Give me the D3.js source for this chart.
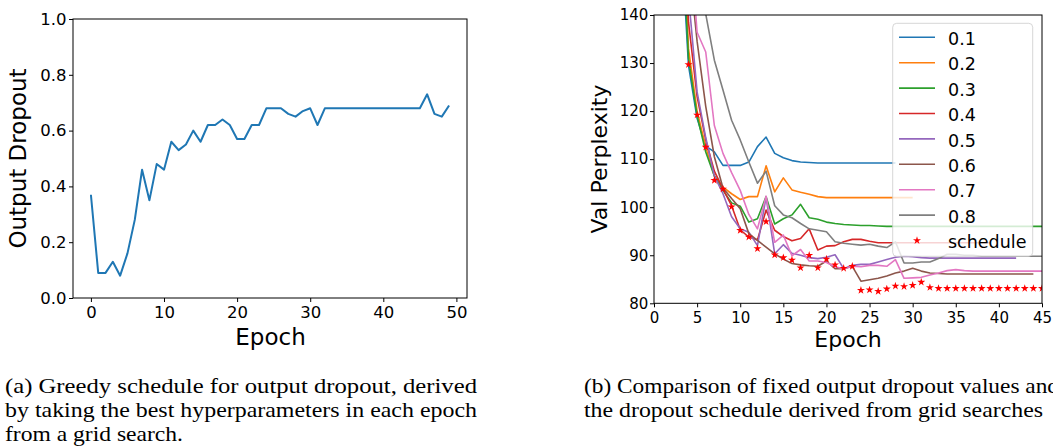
<!DOCTYPE html>
<html>
<head>
<meta charset="utf-8">
<script src="https://cdn.jsdelivr.net/npm/d3@7"></script>
<style>
  html, body { margin: 0; padding: 0; background: #fff; }
  svg { display: block; }
  .tick text { font-family: "DejaVu Sans", sans-serif; fill: #000; }
  .tick line { stroke: #000; }
</style>
</head>
<body>
<svg id="fig" width="1053" height="447"></svg>
<script>
// (a) greedy output dropout per epoch, epochs 0..49
const outputDropout = [0.37, 0.09, 0.09, 0.13, 0.08, 0.16, 0.28, 0.46, 0.35, 0.48,
  0.46, 0.56, 0.53, 0.55, 0.60, 0.56, 0.62, 0.62, 0.64, 0.62,
  0.57, 0.57, 0.62, 0.62, 0.68, 0.68, 0.68, 0.66, 0.65, 0.67,
  0.68, 0.62, 0.68, 0.68, 0.68, 0.68, 0.68, 0.68, 0.68, 0.68,
  0.68, 0.68, 0.68, 0.68, 0.68, 0.68, 0.73, 0.66, 0.65, 0.69];
const dropoutTicks = [0, 0.2, 0.4, 0.6, 0.8, 1.0];
const dropoutEpochTicks = [0, 10, 20, 30, 40, 50];

// (b) val perplexity, every fixed-dropout series starts at epoch 3
const seriesStart = 3;
const ppl01 = [161, 129.5, 118.5, 112.7, 111.5, 108.7, 108.7, 108.7, 109.4, 112.6,
  114.6, 111.2, 110.3, 109.7, 109.4, 109.3, 109.2, 109.2, 109.2, 109.2,
  109.2, 109.2, 109.2, 109.2, 109.2, 109.2];
const ppl02 = [178, 133, 120, 112.5, 106.5, 104.2, 102.8, 101.6, 102.2, 102.2,
  108.6, 103.2, 106.1, 103.6, 103.1, 102.7, 102.2, 102.0, 102.0, 102.0,
  102.0, 102.0, 102.0, 102.0, 102.0, 102.0, 102.0, 102.0];
const ppl03 = [167, 131, 119, 111.5, 106.5, 103.5, 100.9, 100.2, 96.9, 97.6,
  102.2, 96.5, 97.6, 98.4, 100.6, 97.8, 97.5, 96.9, 96.6, 96.4,
  96.3, 96.2, 96.2, 96.1, 96.0, 96.0, 96.0, 96.0, 96.0, 96.0,
  96.0, 96.0, 96.0, 96.0, 96.0, 96.0, 96.0, 96.0, 96.0, 96.0,
  96.0, 96.0, 96.0];
const ppl04 = [176, 138.5, 123, 114, 107.5, 103.8, 100.3, 95.3, 93.8, 93.2,
  99.4, 95.2, 93.9, 93.0, 93.5, 95.5, 91.1, 91.9, 92.0, 92.8,
  93.3, 93.3, 92.9, 92.6, 92.6, 92.6, 92.6, 92.6, 92.6, 92.6,
  92.6, 92.6, 92.6, 92.6, 92.6, 92.6, 92.6];
const ppl05 = [180, 144, 124, 114.5, 106.5, 102.8, 98.0, 95.5, 94.8, 92.0,
  102.1, 90.3, 92.2, 90.4, 90.0, 89.5, 89.3, 89.6, 90.1, 87.2,
  87.9, 88.1, 88.1, 88.6, 89.1, 89.6, 89.8, 89.7, 89.5, 89.4,
  89.4, 89.4, 89.4, 89.4, 89.4, 89.4, 89.4, 89.4, 89.4, 89.4];
const ppl06 = [195, 152, 134.5, 121, 110.5, 104, 101.8, 99.7, 94.5, 93.1,
  91.7, 90.3, 89.2, 88.3, 88.0, 87.8, 87.7, 88.8, 87.2, 87.2,
  87.7, 84.6, 84.9, 85.2, 85.7, 86.3, 86.7, 87.3, 86.7, 86.3,
  86.2, 86.1, 86.1, 86.1, 86.1, 86.1, 86.1, 86.1, 86.1, 86.1,
  86.1, 86.1];
const ppl07 = [205, 160, 136.4, 132.3, 117, 111.2, 107.2, 103.5, 98.5, 95.5,
  102.3, 92.7, 94.2, 89.9, 91.2, 88.8, 88.8, 88.5, 87.6, 87.2,
  87.7, 87.6, 87.9, 87.9, 87.7, 89.1, 85.2, 85.3, 85.4, 85.9,
  86.3, 86.8, 87.0, 86.8, 86.7, 86.7, 86.7, 86.7, 86.7, 86.7,
  86.7, 86.7, 86.7];
const ppl08 = [215, 185, 158, 140.2, 130.6, 124.4, 118.1, 114, 109.4, 105,
  107.5, 100.3, 98.4, 97.8, 96.6, 95.5, 95.2, 94.9, 92.8, 92.5,
  92.3, 92.1, 92.3, 91.9, 91.6, 92.8, 88.4, 88.4, 88.6, 88.6,
  89.3, 90.2, 90.2, 90.0, 90.0, 89.8, 89.8, 89.8, 89.8, 89.8,
  89.8, 89.8, 89.8];
// schedule starts at epoch 4
const scheduleStart = 4;
const schedulePpl = [129.7, 119.2, 112.5, 105.6, 103.8, 100.1, 95.2, 93.8, 91.4, 97.0,
  90.1, 89.5, 89.0, 87.4, 90.0, 87.4, 89.2, 88.0, 87.3, 87.7,
  82.7, 82.8, 82.5, 83.0, 83.6, 83.5, 83.75, 84.4, 83.3, 83.1,
  83.1, 83.1, 83.1, 83.1, 83.1, 83.1, 83.1, 83.1, 83.1, 83.1,
  83.1, 83.1];
const dropoutLabels = ['0.1', '0.2', '0.3', '0.4', '0.5', '0.6', '0.7', '0.8'];
const pplSeries = [ppl01, ppl02, ppl03, ppl04, ppl05, ppl06, ppl07, ppl08];
const pplTicks = [80, 90, 100, 110, 120, 130, 140];
const pplEpochTicks = [0, 5, 10, 15, 20, 25, 30, 35, 40, 45];

const captionA = ['(a) Greedy schedule for output dropout, derived',
  'by taking the best hyperparameters in each epoch',
  'from a grid search.'];
const captionB = ['(b) Comparison of fixed output dropout values and',
  'the dropout schedule derived from grid searches'];

const colors = ['#1f77b4', '#ff7f0e', '#2ca02c', '#d62728', '#9467bd', '#8c564b', '#e377c2', '#7f7f7f'];
const font = '"DejaVu Sans", sans-serif';

const svg = d3.select('#fig');
svg.append('rect').attr('width', 1053).attr('height', 447).attr('fill', '#fff');

const styleAxis = (g, size) => {
  g.select('.domain').remove();
  g.selectAll('.tick text').style('font-size', `${size}px`);
};

// ---------- (a) ----------
const a = { left: 73, right: 467, top: 19, bottom: 298 };
const xA = d3.scaleLinear().domain([-2.45, 51.45]).range([a.left, a.right]);
const yA = d3.scaleLinear().domain([0, 1]).range([a.bottom, a.top]);

svg.append('g')
  .attr('transform', `translate(0,${a.bottom})`)
  .call(d3.axisBottom(xA).tickValues(dropoutEpochTicks).tickSize(4).tickSizeOuter(0).tickPadding(4.6))
  .call(g => styleAxis(g, 16.5));
svg.append('g')
  .attr('transform', `translate(${a.left},0)`)
  .call(d3.axisLeft(yA).tickValues(dropoutTicks).tickFormat(d3.format('.1f')).tickSize(4).tickSizeOuter(0).tickPadding(2.5))
  .call(g => styleAxis(g, 16.5));

svg.append('path')
  .datum(outputDropout)
  .attr('fill', 'none')
  .attr('stroke', colors[0])
  .attr('stroke-width', 2)
  .attr('stroke-linejoin', 'round')
  .attr('d', d3.line().x((d, i) => xA(i)).y(d => yA(d)));

svg.append('rect')
  .attr('x', a.left).attr('y', a.top)
  .attr('width', a.right - a.left).attr('height', a.bottom - a.top)
  .attr('fill', 'none').attr('stroke', '#000').attr('stroke-width', 1);

svg.append('text')
  .attr('x', 270.5).attr('y', 345)
  .attr('text-anchor', 'middle')
  .style('font-family', font).style('font-size', '23px')
  .text('Epoch');
svg.append('text')
  .attr('transform', 'translate(26,158.5) rotate(-90)')
  .attr('text-anchor', 'middle')
  .style('font-family', font).style('font-size', '23px')
  .text('Output Dropout');

// ---------- (b) ----------
const b = { left: 654, right: 1042, top: 15, bottom: 303.3 };
const xB = d3.scaleLinear().domain([0, 45]).range([b.left, b.right]);
const yB = d3.scaleLinear().domain([80, 140]).range([b.bottom, b.top]);

svg.append('g')
  .attr('transform', `translate(0,${b.bottom})`)
  .call(d3.axisBottom(xB).tickValues(pplEpochTicks).tickSize(4).tickSizeOuter(0).tickPadding(4.7))
  .call(g => styleAxis(g, 15));
svg.append('g')
  .attr('transform', `translate(${b.left},0)`)
  .call(d3.axisLeft(yB).tickValues(pplTicks).tickSize(4).tickSizeOuter(0).tickPadding(1.7))
  .call(g => styleAxis(g, 15));

svg.append('clipPath').attr('id', 'clipB')
  .append('rect')
  .attr('x', b.left).attr('y', b.top)
  .attr('width', b.right - b.left).attr('height', b.bottom - b.top);

const plotB = svg.append('g').attr('clip-path', 'url(#clipB)');
const lineB = d3.line().x(d => xB(d.e)).y(d => yB(d.v));

plotB.selectAll('path.ppl')
  .data(pplSeries)
  .enter()
  .append('path')
  .classed('ppl', true)
  .attr('fill', 'none')
  .attr('stroke', (d, i) => colors[i])
  .attr('stroke-width', 1.6)
  .attr('stroke-linejoin', 'round')
  .attr('d', d => lineB(d.map((v, i) => ({ e: i + seriesStart, v }))));

const star = d3.symbol(d3.symbolStar).size(20);
plotB.selectAll('path.sched')
  .data(schedulePpl)
  .enter()
  .append('path')
  .classed('sched', true)
  .attr('transform', (d, i) => `translate(${xB(i + scheduleStart)},${yB(d)})`)
  .attr('d', star)
  .attr('fill', '#ff0000');

svg.append('rect')
  .attr('x', b.left).attr('y', b.top)
  .attr('width', b.right - b.left).attr('height', b.bottom - b.top)
  .attr('fill', 'none').attr('stroke', '#000').attr('stroke-width', 1);

// legend
const legend = svg.append('g');
legend.append('rect')
  .attr('x', 892.7).attr('y', 23.3)
  .attr('width', 140).attr('height', 233)
  .attr('rx', 4)
  .attr('fill', '#fff').attr('fill-opacity', 0.8)
  .attr('stroke', '#ccc').attr('stroke-opacity', 0.8);

const legendItems = dropoutLabels.concat(['schedule']);
const row = legend.selectAll('g.row')
  .data(legendItems)
  .enter()
  .append('g')
  .classed('row', true)
  .attr('transform', (d, i) => `translate(0,${45 + i * 25.4})`);

row.append('text')
  .attr('x', 948).attr('y', 0)
  .style('font-family', font).style('font-size', '17.5px')
  .text(d => d);

row.filter((d, i) => i < dropoutLabels.length)
  .append('line')
  .attr('x1', 899).attr('x2', 935)
  .attr('y1', -7.7).attr('y2', -7.7)
  .attr('stroke', (d, i) => colors[i])
  .attr('stroke-width', 1.6);

row.filter(d => d === 'schedule')
  .append('path')
  .attr('transform', 'translate(917,-7.7)')
  .attr('d', star)
  .attr('fill', '#ff0000');

svg.append('text')
  .attr('x', 848).attr('y', 346.5)
  .attr('text-anchor', 'middle')
  .style('font-family', font).style('font-size', '22px')
  .text('Epoch');
svg.append('text')
  .attr('transform', 'translate(606.5,159) rotate(-90)')
  .attr('text-anchor', 'middle')
  .style('font-family', font).style('font-size', '22px')
  .text('Val Perplexity');

// ---------- captions ----------
const captionWidthA = [472, 472, 178];
svg.selectAll('text.capA')
  .data(captionA)
  .enter()
  .append('text')
  .classed('capA', true)
  .attr('x', 5)
  .attr('y', (d, i) => 392.5 + i * 24)
  .attr('textLength', (d, i) => captionWidthA[i])
  .attr('lengthAdjust', 'spacingAndGlyphs')
  .style('font-family', '"Liberation Serif", serif').style('font-size', '22px')
  .text(d => d);

const captionWidthB = [475, 459];
svg.selectAll('text.capB')
  .data(captionB)
  .enter()
  .append('text')
  .classed('capB', true)
  .attr('x', 584)
  .attr('y', (d, i) => 392.5 + i * 24)
  .attr('textLength', (d, i) => captionWidthB[i])
  .attr('lengthAdjust', 'spacingAndGlyphs')
  .style('font-family', '"Liberation Serif", serif').style('font-size', '22px')
  .text(d => d);
</script>
</body>
</html>
